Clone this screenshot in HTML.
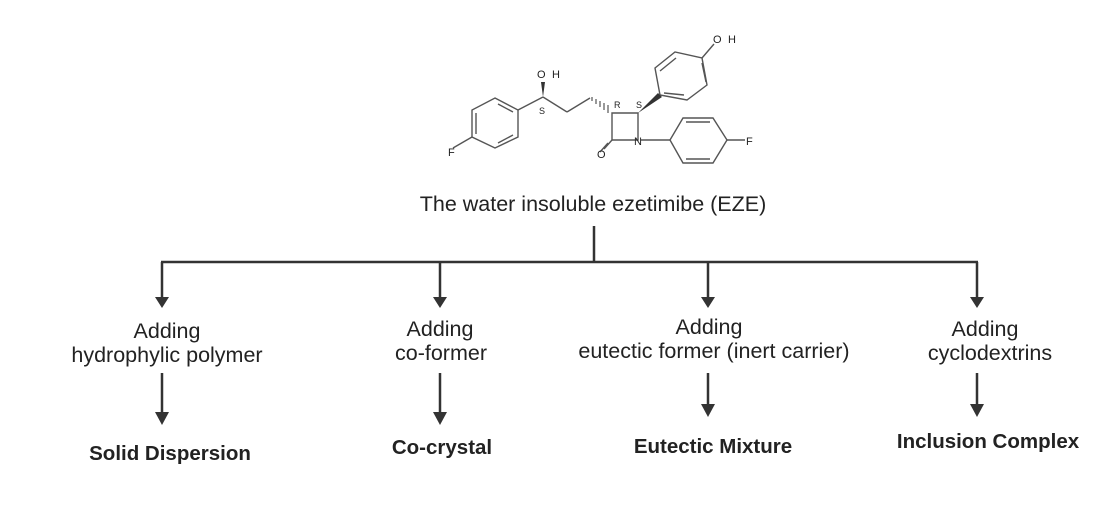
<!DOCTYPE html>
<html><head><meta charset="utf-8"><style>
html,body{margin:0;padding:0;background:#fff;}
svg{display:block}
text{font-family:"Liberation Sans",sans-serif;fill:#222}
</style></head><body>
<svg width="1119" height="512" viewBox="0 0 1119 512" xmlns="http://www.w3.org/2000/svg">
<g stroke="#555" stroke-width="1.4" fill="none">
<polygon points="495,98 518,110 518,137 495,148 472,137 472,110"/>
<line x1="498" y1="104" x2="513" y2="112"/><line x1="513" y1="135" x2="498" y2="143"/><line x1="476" y1="113" x2="476" y2="134"/>
<line x1="472" y1="137" x2="453" y2="148"/>
<line x1="518" y1="110" x2="543" y2="97"/>
<line x1="543" y1="97" x2="567" y2="112"/><line x1="567" y1="112" x2="590" y2="98"/>
<polygon points="612,113 638,113 638,140 612,140"/>
<line x1="612" y1="140" x2="604" y2="149"/><line x1="608" y1="143" x2="600" y2="152"/>
<line x1="641" y1="140" x2="670" y2="140"/>
<polygon points="660,95 655,68 675,52 702,58 707,85 687,100"/>
<line x1="660" y1="71" x2="676" y2="58"/><line x1="702" y1="63" x2="706" y2="82"/><line x1="684" y1="95" x2="664" y2="93"/>
<line x1="702" y1="58" x2="714" y2="44"/>
<polygon points="670,140 683,118 713,118 727,140 713,163 683,163"/>
<line x1="686" y1="122" x2="710" y2="122"/><line x1="710" y1="159" x2="686" y2="159"/>
<line x1="727" y1="140" x2="745" y2="140"/>
</g>
<g stroke="#555" stroke-width="1.2">
<line x1="592" y1="97" x2="592" y2="101"/><line x1="596" y1="99" x2="596" y2="104"/><line x1="600" y1="101" x2="600" y2="107"/><line x1="604" y1="103" x2="604" y2="110"/><line x1="608" y1="105" x2="608" y2="113"/>
</g>
<polygon points="543,97 541,82 545,82" fill="#333"/>
<polygon points="638,113 658,93 662,97" fill="#333"/>
<g font-size="11">
<text x="448" y="156">F</text>
<text x="537" y="78">O</text><text x="552" y="78">H</text>
<text x="539" y="114" font-size="9">S</text>
<text x="614" y="108" font-size="9">R</text>
<text x="636" y="108" font-size="9">S</text>
<text x="597" y="158">O</text>
<text x="634" y="145">N</text>
<text x="746" y="145">F</text>
<text x="713" y="43">O</text><text x="728" y="43">H</text>
</g>
<text x="593" y="211" font-size="21.5" text-anchor="middle">The water insoluble ezetimibe (EZE)</text>
<g stroke="#333" stroke-width="2.5" fill="none">
<line x1="594" y1="226" x2="594" y2="262"/>
<line x1="161" y1="262" x2="978" y2="262"/>
<line x1="162" y1="262" x2="162" y2="298"/><line x1="440" y1="262" x2="440" y2="298"/><line x1="708" y1="262" x2="708" y2="298"/><line x1="977" y1="262" x2="977" y2="298"/>
<line x1="162" y1="373" x2="162" y2="414"/><line x1="440" y1="373" x2="440" y2="414"/><line x1="708" y1="373" x2="708" y2="406"/><line x1="977" y1="373" x2="977" y2="406"/>
</g>
<g fill="#333">
<polygon points="155,297 169,297 162,308"/><polygon points="433,297 447,297 440,308"/><polygon points="701,297 715,297 708,308"/><polygon points="970,297 984,297 977,308"/>
<polygon points="155,412 169,412 162,425"/><polygon points="433,412 447,412 440,425"/><polygon points="701,404 715,404 708,417"/><polygon points="970,404 984,404 977,417"/>
</g>
<g font-size="21.5" text-anchor="middle">
<text x="167" y="338">Adding</text><text x="167" y="362">hydrophylic polymer</text>
<text x="440" y="336">Adding</text><text x="441" y="360">co-former</text>
<text x="709" y="334">Adding</text><text x="714" y="358">eutectic former (inert carrier)</text>
<text x="985" y="336">Adding</text><text x="990" y="360">cyclodextrins</text>
</g>
<g font-size="20.5" font-weight="bold" text-anchor="middle">
<text x="170" y="460">Solid Dispersion</text>
<text x="442" y="454">Co-crystal</text>
<text x="713" y="453">Eutectic Mixture</text>
<text x="988" y="448">Inclusion Complex</text>
</g>
</svg>
</body></html>
